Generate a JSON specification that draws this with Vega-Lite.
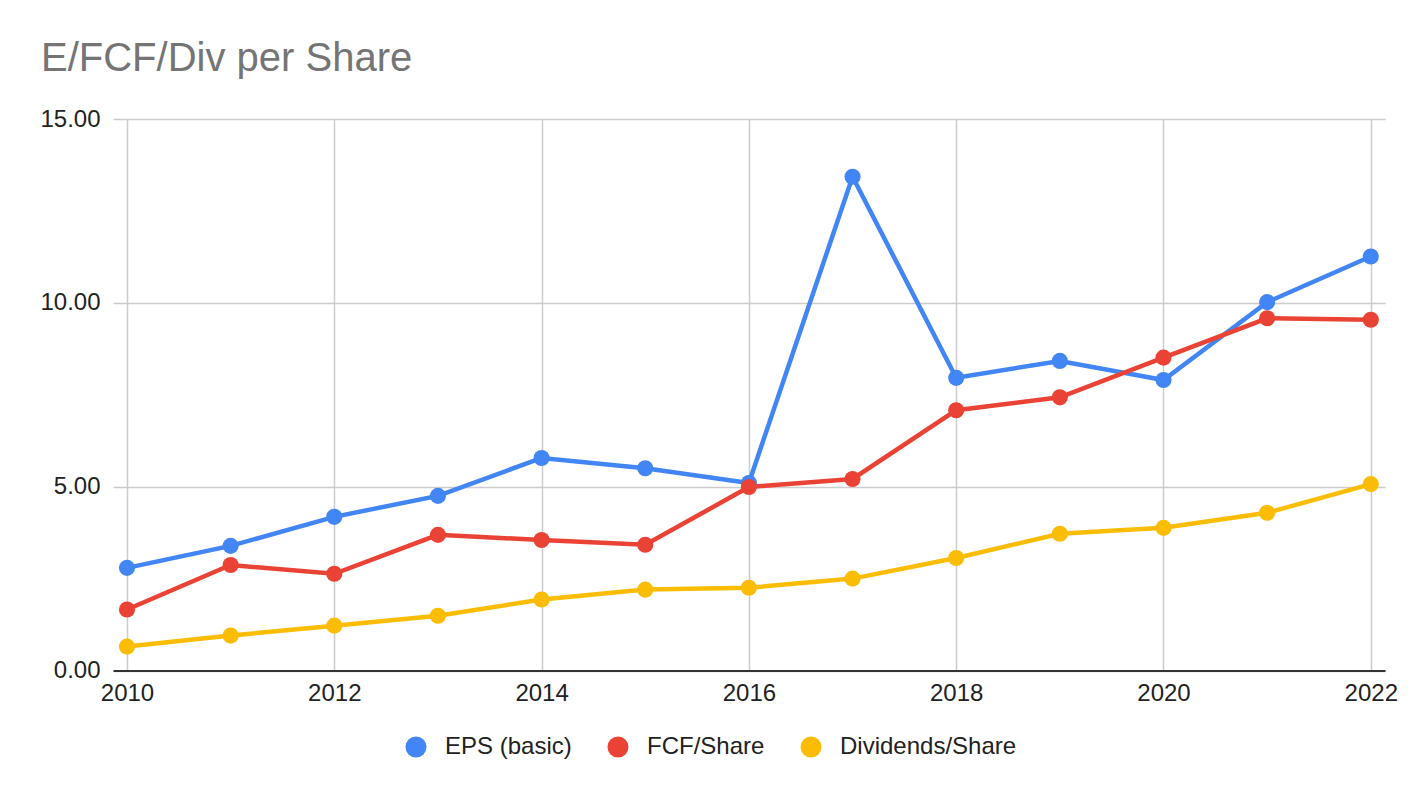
{
  "$schema": "https://vega.github.io/schema/vega-lite/v6.json",
  "autosize": {"type": "none"},
  "padding": {"left": 113, "top": 119, "right": 39, "bottom": 127.5},
  "width": 1272,
  "height": 551.5,
  "background": "#ffffff",
  "title": {
    "text": "E/FCF/Div per Share",
    "anchor": "start",
    "frame": "group",
    "dx": -72,
    "dy": 52,
    "baseline": "alphabetic",
    "offset": 48,
    "font": "Liberation Sans",
    "fontSize": 40,
    "fontWeight": "normal",
    "color": "#757575"
  },
  "data": {
    "values": [
      {"year": 2010, "series": "EPS (basic)", "value": 2.79},
      {"year": 2011, "series": "EPS (basic)", "value": 3.39},
      {"year": 2012, "series": "EPS (basic)", "value": 4.18},
      {"year": 2013, "series": "EPS (basic)", "value": 4.75},
      {"year": 2014, "series": "EPS (basic)", "value": 5.78},
      {"year": 2015, "series": "EPS (basic)", "value": 5.50},
      {"year": 2016, "series": "EPS (basic)", "value": 5.10},
      {"year": 2017, "series": "EPS (basic)", "value": 13.43},
      {"year": 2018, "series": "EPS (basic)", "value": 7.96},
      {"year": 2019, "series": "EPS (basic)", "value": 8.42},
      {"year": 2020, "series": "EPS (basic)", "value": 7.90},
      {"year": 2021, "series": "EPS (basic)", "value": 10.02},
      {"year": 2022, "series": "EPS (basic)", "value": 11.26},
      {"year": 2010, "series": "FCF/Share", "value": 1.66},
      {"year": 2011, "series": "FCF/Share", "value": 2.87},
      {"year": 2012, "series": "FCF/Share", "value": 2.63},
      {"year": 2013, "series": "FCF/Share", "value": 3.69},
      {"year": 2014, "series": "FCF/Share", "value": 3.55},
      {"year": 2015, "series": "FCF/Share", "value": 3.42},
      {"year": 2016, "series": "FCF/Share", "value": 4.99},
      {"year": 2017, "series": "FCF/Share", "value": 5.21},
      {"year": 2018, "series": "FCF/Share", "value": 7.08},
      {"year": 2019, "series": "FCF/Share", "value": 7.43},
      {"year": 2020, "series": "FCF/Share", "value": 8.51},
      {"year": 2021, "series": "FCF/Share", "value": 9.58},
      {"year": 2022, "series": "FCF/Share", "value": 9.54},
      {"year": 2010, "series": "Dividends/Share", "value": 0.65},
      {"year": 2011, "series": "Dividends/Share", "value": 0.95},
      {"year": 2012, "series": "Dividends/Share", "value": 1.22},
      {"year": 2013, "series": "Dividends/Share", "value": 1.49},
      {"year": 2014, "series": "Dividends/Share", "value": 1.93},
      {"year": 2015, "series": "Dividends/Share", "value": 2.20},
      {"year": 2016, "series": "Dividends/Share", "value": 2.25},
      {"year": 2017, "series": "Dividends/Share", "value": 2.50},
      {"year": 2018, "series": "Dividends/Share", "value": 3.06},
      {"year": 2019, "series": "Dividends/Share", "value": 3.72},
      {"year": 2020, "series": "Dividends/Share", "value": 3.88},
      {"year": 2021, "series": "Dividends/Share", "value": 4.29},
      {"year": 2022, "series": "Dividends/Share", "value": 5.07}
    ]
  },
  "encoding": {
    "x": {
      "field": "year",
      "type": "quantitative",
      "scale": {"domain": [2009.865, 2022.137], "nice": false, "zero": false},
      "axis": {
        "title": null,
        "values": [2010, 2012, 2014, 2016, 2018, 2020, 2022],
        "format": "d",
        "ticks": false,
        "labelPadding": 11,
        "labelFont": "Liberation Sans",
        "labelFontSize": 24,
        "labelColor": "#222222",
        "grid": true,
        "gridColor": "#cccccc",
        "gridWidth": 1.5,
        "domain": true,
        "domainColor": "#333333",
        "domainWidth": 2,
        "labelFlush": false
      }
    },
    "y": {
      "field": "value",
      "type": "quantitative",
      "scale": {"domain": [0, 15], "nice": false},
      "axis": {
        "title": null,
        "values": [0, 5, 10, 15],
        "format": ".2f",
        "ticks": false,
        "labelPadding": 13,
        "labelFont": "Liberation Sans",
        "labelFontSize": 24,
        "labelColor": "#222222",
        "grid": true,
        "gridColor": "#cccccc",
        "gridWidth": 1.5,
        "domain": false
      }
    },
    "color": {
      "field": "series",
      "type": "nominal",
      "scale": {
        "domain": ["EPS (basic)", "FCF/Share", "Dividends/Share"],
        "range": ["#4285f4", "#ea4335", "#fbbc04"]
      },
      "legend": {
        "title": null,
        "orient": "none",
        "direction": "horizontal",
        "legendX": 291,
        "legendY": 616,
        "symbolType": "circle",
        "symbolSize": 440,
        "symbolOpacity": 1,
        "symbolStrokeWidth": 0,
        "labelFont": "Liberation Sans",
        "labelFontSize": 24,
        "labelColor": "#222222",
        "labelLimit": 400,
        "labelOffset": 17,
        "columnPadding": 34
      }
    }
  },
  "layer": [
    {
      "mark": {"type": "line", "strokeWidth": 4.5}
    },
    {
      "mark": {"type": "point", "filled": true, "size": 260, "opacity": 1, "shape": "circle"}
    }
  ],
  "config": {
    "view": {"stroke": null}
  }
}
